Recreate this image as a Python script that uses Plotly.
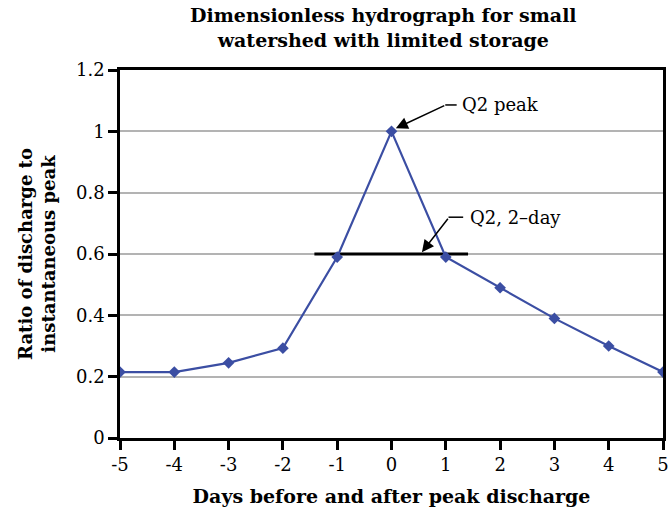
import plotly.graph_objects as go

days = [-5, -4, -3, -2, -1, 0, 1, 2, 3, 4, 5]
ratio = [0.215, 0.215, 0.245, 0.293, 0.59, 1.0, 0.59, 0.49, 0.39, 0.30, 0.215]
two_day_x = [-1.42, 1.41]
two_day_y = [0.6, 0.6]
x_ticks = [-5, -4, -3, -2, -1, 0, 1, 2, 3, 4, 5]
x_tick_text = ["-5", "-4", "-3", "-2", "-1", "0", "1", "2", "3", "4", "5"]
y_ticks = [0, 0.2, 0.4, 0.6, 0.8, 1.0, 1.2]
y_tick_text = ["0", "0.2", "0.4", "0.6", "0.8", "1", "1.2"]

FONT = "DejaVu Serif"
BLUE = "#3b4ea3"

fig = go.Figure()
fig.add_trace(go.Scatter(x=two_day_x, y=two_day_y, mode="lines",
                         line=dict(color="black", width=3), hoverinfo="skip"))
fig.add_trace(go.Scatter(x=days, y=ratio, mode="lines+markers",
                         line=dict(color=BLUE, width=2.2),
                         marker=dict(symbol="diamond", size=9, color=BLUE)))

# Q2 peak annotation: horizontal leader + arrow
fig.add_trace(go.Scatter(x=[0.99, 1.20], y=[1.086, 1.086], mode="lines",
                         line=dict(color="black", width=1.5), hoverinfo="skip"))
fig.add_annotation(x=0.08, y=1.01, ax=1.0, ay=1.086, axref="x", ayref="y",
                   xref="x", yref="y", text="", showarrow=True,
                   arrowhead=2, arrowsize=1.6, arrowwidth=1.5, arrowcolor="black")
fig.add_annotation(x=1.27, y=1.086, xref="x", yref="y", text="Q2 peak",
                   showarrow=False, xanchor="left",
                   font=dict(family=FONT, size=18, color="black"))

# Q2, 2-day annotation
fig.add_trace(go.Scatter(x=[1.05, 1.32], y=[0.72, 0.72], mode="lines",
                         line=dict(color="black", width=1.5), hoverinfo="skip"))
fig.add_annotation(x=0.56, y=0.606, ax=1.06, ay=0.72, axref="x", ayref="y",
                   xref="x", yref="y", text="", showarrow=True,
                   arrowhead=2, arrowsize=1.6, arrowwidth=1.5, arrowcolor="black")
fig.add_annotation(x=1.4, y=0.72, xref="x", yref="y", text="Q2, 2\u2013day",
                   showarrow=False, xanchor="left",
                   font=dict(family=FONT, size=18, color="black"))

# Title (as annotation for exact placement)
fig.add_annotation(x=0.485, y=1.185, xref="paper", yref="paper",
                   text="<b>Dimensionless hydrograph for small<br>watershed with limited storage</b>",
                   showarrow=False, xanchor="center", yanchor="top",
                   font=dict(family=FONT, size=19, color="black"))

fig.update_layout(
    width=670, height=515,
    margin=dict(l=120, r=7, t=70, b=77, autoexpand=False),
    paper_bgcolor="white", plot_bgcolor="white",
    showlegend=False,
    font=dict(family=FONT, size=18, color="black"),
)
fig.update_xaxes(range=[-5, 5], tickvals=x_ticks, ticktext=x_tick_text,
                 ticks="outside", ticklen=9, automargin=False,
                 ticklabeloverflow="allow",
                 tickwidth=2.5, tickcolor="black", showline=True, linewidth=2.5,
                 linecolor="black", mirror=True, showgrid=False, zeroline=False,
                 tickfont=dict(size=18),
                 title=dict(text="<b>Days before and after peak discharge</b>",
                            font=dict(family=FONT, size=19), standoff=16))
fig.update_yaxes(range=[0, 1.2], tickvals=y_ticks, ticktext=y_tick_text,
                 ticks="outside", ticklen=9, tickwidth=2.5, tickcolor="black",
                 showline=True, linewidth=2.5, linecolor="black", mirror=True,
                 showgrid=True, gridcolor="#b3b3b3", gridwidth=2, zeroline=False,
                 tickfont=dict(size=18),
                 title=dict(text="<b>Ratio of discharge to<br>instantaneous peak</b>",
                            font=dict(family=FONT, size=18), standoff=16))

fig.write_html("out.html", config={"displayModeBar": False},
               post_script="document.body.style.margin='0';")
